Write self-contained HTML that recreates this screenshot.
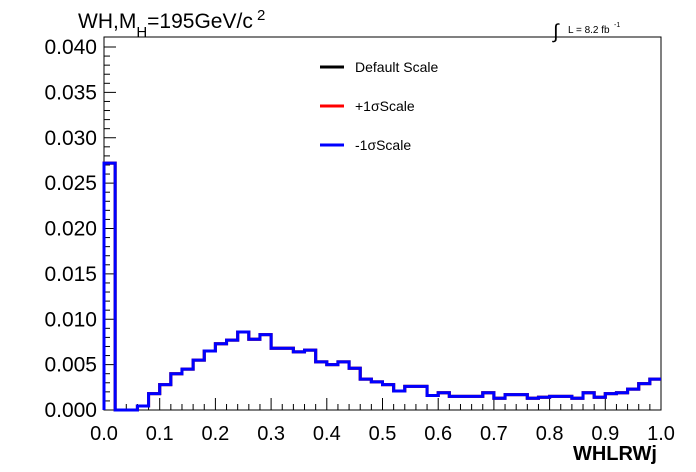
<!DOCTYPE html>
<html><head><meta charset="utf-8"><style>
html,body{margin:0;padding:0;background:#fff;}
svg{display:block;font-family:"Liberation Sans",sans-serif;}
</style></head><body>
<svg id="chart" width="696" height="472" viewBox="0 0 696 472" xmlns="http://www.w3.org/2000/svg">
<rect x="0" y="0" width="696" height="472" fill="#fff"/>
<g id="axes"></g>
<g id="series"></g>
<text x="78" y="28" font-size="21">WH,M<tspan font-size="15" dy="9">H</tspan><tspan dy="-9">=195GeV/c</tspan><tspan font-size="15" dy="-8"> 2</tspan></text>
<g>
<text x="553" y="38" font-size="20">∫</text>
<text x="568" y="33" font-size="10">L = 8.2 fb</text>
<text x="614" y="27" font-size="7">-1</text>
</g>
<g>
<g><line x1="320" y1="67" x2="344" y2="67" stroke="#000" stroke-width="3"/><text x="355" y="72" font-size="14">Default Scale</text></g>
<g><line x1="320" y1="106" x2="344" y2="106" stroke="#f00" stroke-width="3"/><text x="355" y="111" font-size="14">+1σScale</text></g>
<g><line x1="320" y1="145" x2="344" y2="145" stroke="#00f" stroke-width="3"/><text x="355" y="150" font-size="14">-1σScale</text></g>
</g>
<text x="657" y="460" font-size="20" font-weight="bold" text-anchor="end">WHLRWj</text>
</svg>
<script>
const binEdges = [0, 1, 50]; // xmin, xmax, nbins
const yTicks = [0, 0.005, 0.010, 0.015, 0.020, 0.025, 0.030, 0.035, 0.040];
const yTickLabels = ["0.000","0.005","0.010","0.015","0.020","0.025","0.030","0.035","0.040"];
const xTicks = [0,0.1,0.2,0.3,0.4,0.5,0.6,0.7,0.8,0.9,1.0];
const xTickLabels = ["0.0","0.1","0.2","0.3","0.4","0.5","0.6","0.7","0.8","0.9","1.0"];
const defaultScale = [0.0272,0,0,0.00044,0.0018,0.0028,0.0040,0.0045,0.0055,0.0065,0.0073,0.0077,0.0086,0.0078,0.0083,0.0068,0.0068,0.0064,0.0066,0.0053,0.0050,0.0053,0.0046,0.0034,0.0031,0.0028,0.0021,0.0026,0.0026,0.0016,0.0019,0.0015,0.0015,0.0015,0.0019,0.0013,0.0017,0.0017,0.0013,0.0014,0.0015,0.0015,0.0013,0.0019,0.0014,0.0018,0.0019,0.0023,0.0029,0.0034];
const plusScale = defaultScale.slice();
const minusScale = defaultScale.slice();

const L=104,R=661,T=37,B=410,YMAX=0.04;
const sx=v=>L+(v-binEdges[0])/(binEdges[1]-binEdges[0])*(R-L);
const sy=v=>B-v/YMAX*(B-47);
const NS="http://www.w3.org/2000/svg";
const axes=document.getElementById('axes');
function mk(tag,attrs,parent){const e=document.createElementNS(NS,tag);for(const k in attrs)e.setAttribute(k,attrs[k]);parent.appendChild(e);return e;}
const frame=mk('rect',{x:L,y:T,width:R-L,height:B-T,fill:'none',stroke:'#000','stroke-width':1},axes);


for(let i=0;i<yTicks.length;i++){
  const y=sy(yTicks[i]);
  const t=mk('line',{x1:L,y1:y,x2:L+12,y2:y,stroke:'#000'},axes);
  
  
  const lb=mk('text',{x:97,y:y+7,'font-size':21,'text-anchor':'end'},axes);
  lb.textContent=yTickLabels[i];
  
  
  if(i<yTicks.length-1){for(let j=1;j<5;j++){const ym=sy(yTicks[i]+j*0.001);mk('line',{x1:L,y1:ym,x2:L+6,y2:ym,stroke:'#000'},axes);}}
}
for(let i=0;i<xTicks.length;i++){
  const x=sx(xTicks[i]);
  const t=mk('line',{x1:x,y1:B,x2:x,y2:B-12,stroke:'#000'},axes);
  
  
  const lb=mk('text',{x:x,y:440,'font-size':20,'text-anchor':'middle'},axes);
  lb.textContent=xTickLabels[i];
  
  
  if(i<xTicks.length-1){for(let j=1;j<5;j++){const xm=sx(xTicks[i]+j*0.02);mk('line',{x1:xm,y1:B,x2:xm,y2:B-6,stroke:'#000'},axes);}}
}
const series=document.getElementById('series');
function hist(vals,color,name){
  const n=binEdges[2],w=(binEdges[1]-binEdges[0])/n;
  let d='M'+sx(0)+','+sy(0);
  for(let i=0;i<n;i++){const x0=sx(binEdges[0]+i*w),x1=sx(binEdges[0]+(i+1)*w),y=sy(vals[i]);d+=' L'+x0+','+y+' L'+x1+','+y;}
  const p=mk('path',{d:d,fill:'none',stroke:color,'stroke-width':3},series);
  
  
}
hist(defaultScale,'#000','series-default-scale');
hist(plusScale,'#f00','series-plus1sigma-scale');
hist(minusScale,'#00f','series-minus1sigma-scale');
</script>
</body></html>
